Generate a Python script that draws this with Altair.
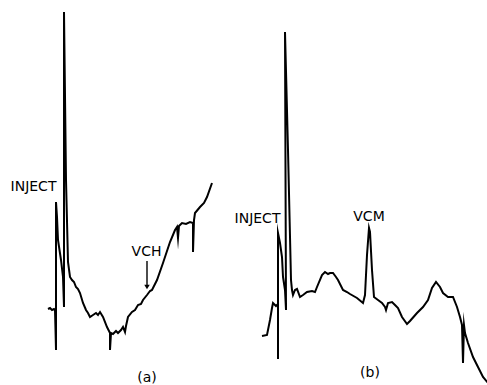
import altair as alt
import pandas as pd

H = 385  # recorder chart height reference (response = H - pen position)

# Panel (a): chromatogram trace (time, pen position)
a_t = [48, 50, 52, 54, 55, 56, 56, 57, 58, 61, 63, 64, 64, 66, 68, 70, 72, 74, 76, 78, 80, 83,
       86, 88, 90, 93, 96, 98, 100, 103, 107, 110, 110, 111, 113, 116, 118, 121, 123, 125, 126, 128, 132,
       135, 138, 141, 143, 147, 150, 152, 157, 163, 170, 175, 177, 178, 179, 182, 186, 190, 193, 193, 194, 195, 200,
       204, 207, 212]
a_p = [309, 308, 310, 309, 310, 350, 202, 217, 240, 260, 277, 307, 12, 180, 262, 277, 280, 282, 287, 289, 293, 303,
       310, 313, 317, 315, 313, 315, 312, 317, 327, 333, 350, 333, 334, 331, 333, 330, 327, 332, 326, 317, 312,
       310, 305, 304, 300, 295, 291, 290, 280, 263, 242, 230, 227, 238, 226, 223, 224, 222, 223, 252, 220, 213, 207,
       203, 197, 183]

# Panel (b): chromatogram trace
b_t = [262, 267, 270, 272, 273, 276, 277, 278, 278, 278, 280, 282, 283, 285, 286, 285, 288, 291, 292, 293,
       295, 297, 300, 303, 307, 312, 315, 317, 322, 325, 328, 330, 333, 336, 338, 343, 347, 350, 357, 363, 365, 367, 369,
       370, 372, 374, 378, 382, 385, 386, 388, 392, 395, 398, 402, 407, 410, 417, 423, 428, 432, 436, 440,
       443, 448, 453, 457, 460, 462, 463, 464, 465, 468, 473, 478, 483, 488]
b_p = [336, 335, 320, 308, 303, 306, 305, 306, 359, 233, 243, 257, 277, 290, 310, 32, 150, 280, 290, 295,
       290, 289, 297, 295, 292, 291, 292, 287, 275, 272, 274, 273, 273, 277, 280, 290, 292, 294, 298, 303, 295, 255, 228,
       232, 270, 297, 300, 303, 307, 310, 303, 302, 305, 308, 317, 324, 321, 313, 307, 300, 288, 282, 287,
       293, 297, 297, 307, 317, 325, 363, 325, 333, 343, 357, 367, 377, 383]

# Annotations
lab_text = ["INJECT", "INJECT", "VCH", "VCM", "(a)", "(b)"]
lab_t = [33.5, 257.5, 146.5, 369, 147, 370]
lab_p = [187, 219, 252, 217, 378, 373]

arrow_t = [147]
arrow_p_start = [261]
arrow_p_end = [287]

rows = []
for i, (t, p) in enumerate(zip(a_t, a_p)):
    rows.append({"panel": "a", "i": i, "t": t, "r": H - p})
for i, (t, p) in enumerate(zip(b_t, b_p)):
    rows.append({"panel": "b", "i": i, "t": t, "r": H - p})
trace = pd.DataFrame(rows)

labels = pd.DataFrame({"text": lab_text, "t": lab_t, "r": [H - p for p in lab_p]})
arrow = pd.DataFrame({"t": arrow_t, "r": [H - p for p in arrow_p_start],
                      "r2": [H - p for p in arrow_p_end]})

xs = alt.Scale(domain=[0, 487], nice=False, zero=False)
ys = alt.Scale(domain=[0, 385], nice=False, zero=False)

lines = alt.Chart(trace).mark_line(color="black", strokeWidth=2, strokeJoin="miter",
                                   strokeMiterLimit=20).encode(
    x=alt.X("t:Q", scale=xs, axis=None),
    y=alt.Y("r:Q", scale=ys, axis=None),
    detail="panel:N",
    order="i:Q",
)

texts = alt.Chart(labels).mark_text(font="DejaVu Sans", fontSize=14, color="black",
                                    align="center", baseline="middle").encode(
    x=alt.X("t:Q", scale=xs, axis=None),
    y=alt.Y("r:Q", scale=ys, axis=None),
    text="text:N",
)

arrow_line = alt.Chart(arrow).mark_rule(color="black", strokeWidth=1.4).encode(
    x=alt.X("t:Q", scale=xs, axis=None),
    y=alt.Y("r:Q", scale=ys, axis=None),
    y2="r2:Q",
)
arrow_head = alt.Chart(arrow).mark_point(shape="triangle-down", filled=True, size=30,
                                         color="black", opacity=1).encode(
    x=alt.X("t:Q", scale=xs, axis=None),
    y=alt.Y("r2:Q", scale=ys, axis=None),
)

chart = alt.layer(lines, arrow_line, arrow_head, texts).properties(
    width=487, height=385, padding=0, autosize=alt.AutoSizeParams(type="none"),
    background="white",
).configure_view(stroke=None)

chart.save("out.html", embed_options={"renderer": "svg", "actions": False})
